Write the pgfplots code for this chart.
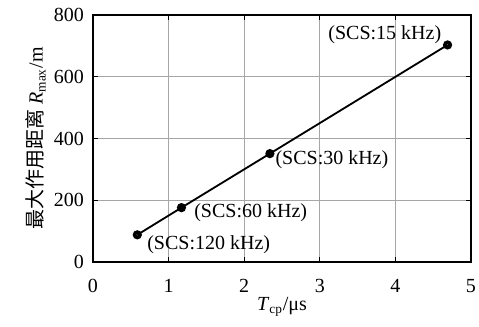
\documentclass[border=0pt]{standalone}
\usepackage{fontspec}
\setmainfont{Liberation Serif}
\newfontfamily\cjk{Noto Sans CJK SC}
\usepackage{pgfplots}
\pgfplotsset{compat=1.18}
\begin{document}
\begin{tikzpicture}
\begin{axis}[
  name=ax,
  scale only axis,
  width=226.8pt, height=148.2pt,
  xmin=0, xmax=5, ymin=0, ymax=800,
  xtick={0,1,2,3,4,5}, ytick={0,200,400,600,800},
  grid=major,
  major grid style={gray!70, line width=0.4pt},
  axis line style={line width=0.9pt},
  tick style={black, line width=0.6pt},
  tick align=inside,
  major tick length=3pt,
  /pgf/number format/assume math mode=true,
  tick label style={font=\fontsize{12}{14}\selectfont},
  xticklabel style={yshift=-7pt},
  yticklabel style={xshift=-2pt},
  xlabel={\textit{T}\textsubscript{cp}/μs},
  ylabel={{\cjk 最大作用距离} \textit{R}\textsubscript{max}/m},
  label style={font=\fontsize{12}{14}\selectfont},
  xlabel style={yshift=4pt},
  ylabel style={yshift=-2pt},
]
\addplot[black, line width=1.1pt, mark=o, mark size=1.6pt,
  mark options={line width=2.2pt, solid}]
  coordinates {(0.586,88) (1.17,176) (2.34,351) (4.69,703)};
\node[anchor=west, font=\fontsize{12}{14}\selectfont, inner sep=0pt] at (axis cs:0.714,55) {(SCS:120 kHz)};
\node[anchor=west, font=\fontsize{12}{14}\selectfont, inner sep=0pt] at (axis cs:1.336,159) {(SCS:60 kHz)};
\node[anchor=west, font=\fontsize{12}{14}\selectfont, inner sep=0pt] at (axis cs:2.41,330) {(SCS:30 kHz)};
\node[anchor=west, font=\fontsize{12}{14}\selectfont, inner sep=0pt] at (axis cs:3.11,735) {(SCS:15 kHz)};
\end{axis}
\pgfresetboundingbox
\path ([shift={(-55.8pt,-39pt)}]ax.south west) rectangle ([shift={(4.8pt,9pt)}]ax.north east);
\end{tikzpicture}
\end{document}
